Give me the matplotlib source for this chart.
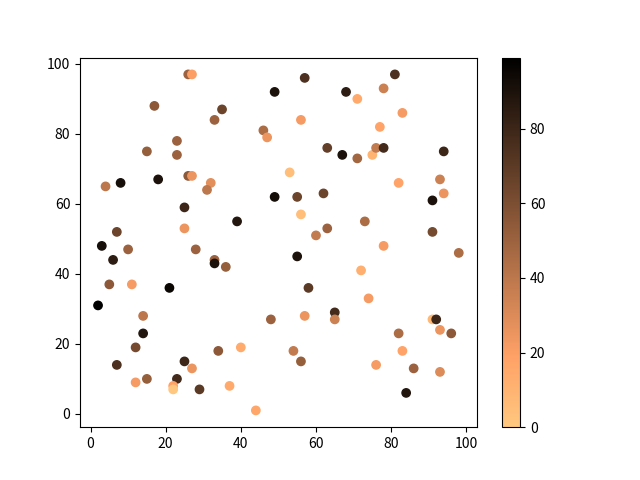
import numpy as np
import matplotlib
matplotlib.use("Agg")
import matplotlib.pyplot as plt

plt.rcParams['font.family'] = ['Noto Sans CJK SC', 'DejaVu Sans']

# point positions and colour values
x = [26, 27, 49, 17, 35, 33, 46, 47, 23, 15, 23, 26, 27, 4, 8, 18, 32, 31, 49, 25,
     39, 25, 7, 3, 10, 28, 6, 33, 33, 36, 5, 11, 21, 2, 14, 48, 14, 12, 40, 34,
     7, 25, 27, 12, 15, 23, 22, 22, 29, 37, 44, 57, 81, 68, 78, 71, 56, 83, 77, 63,
     67, 71, 75, 76, 78, 94, 53, 82, 93, 94, 55, 62, 91, 56, 73, 60, 63, 91, 78, 98,
     55, 72, 58, 74, 57, 65, 65, 91, 92, 93, 96, 82, 83, 54, 56, 76, 86, 93, 84]
y = [97, 97, 92, 88, 87, 84, 81, 79, 78, 75, 74, 68, 68, 65, 66, 67, 66, 64, 62, 59,
     55, 53, 52, 48, 47, 47, 44, 44, 43, 42, 37, 37, 36, 31, 28, 27, 23, 19, 19, 18,
     14, 15, 13, 9, 10, 10, 8, 7, 7, 8, 1, 96, 97, 92, 93, 90, 84, 86, 82, 76,
     74, 73, 74, 76, 76, 75, 69, 66, 67, 63, 62, 63, 61, 57, 55, 51, 53, 52, 48, 46,
     45, 41, 36, 33, 28, 29, 27, 27, 27, 24, 23, 23, 18, 18, 15, 14, 13, 12, 6]
c = [50, 20, 90, 55, 65, 50, 45, 25, 50, 52, 50, 55, 25, 40, 92, 90, 28, 40, 93, 80,
     88, 25, 65, 92, 50, 50, 85, 50, 90, 52, 55, 22, 96, 99, 40, 50, 88, 62, 14, 55,
     75, 80, 25, 22, 52, 78, 18, 0, 70, 15, 16, 75, 75, 85, 35, 15, 22, 22, 18, 68,
     90, 48, 10, 38, 78, 80, 5, 18, 35, 25, 65, 65, 90, 5, 45, 38, 50, 62, 22, 45,
     90, 12, 70, 22, 25, 78, 35, 8, 80, 25, 55, 45, 18, 38, 52, 22, 50, 30, 88]

plt.figure()
plt.scatter(x, y, c=c, cmap="copper_r")
plt.colorbar()
plt.savefig("out.png")
